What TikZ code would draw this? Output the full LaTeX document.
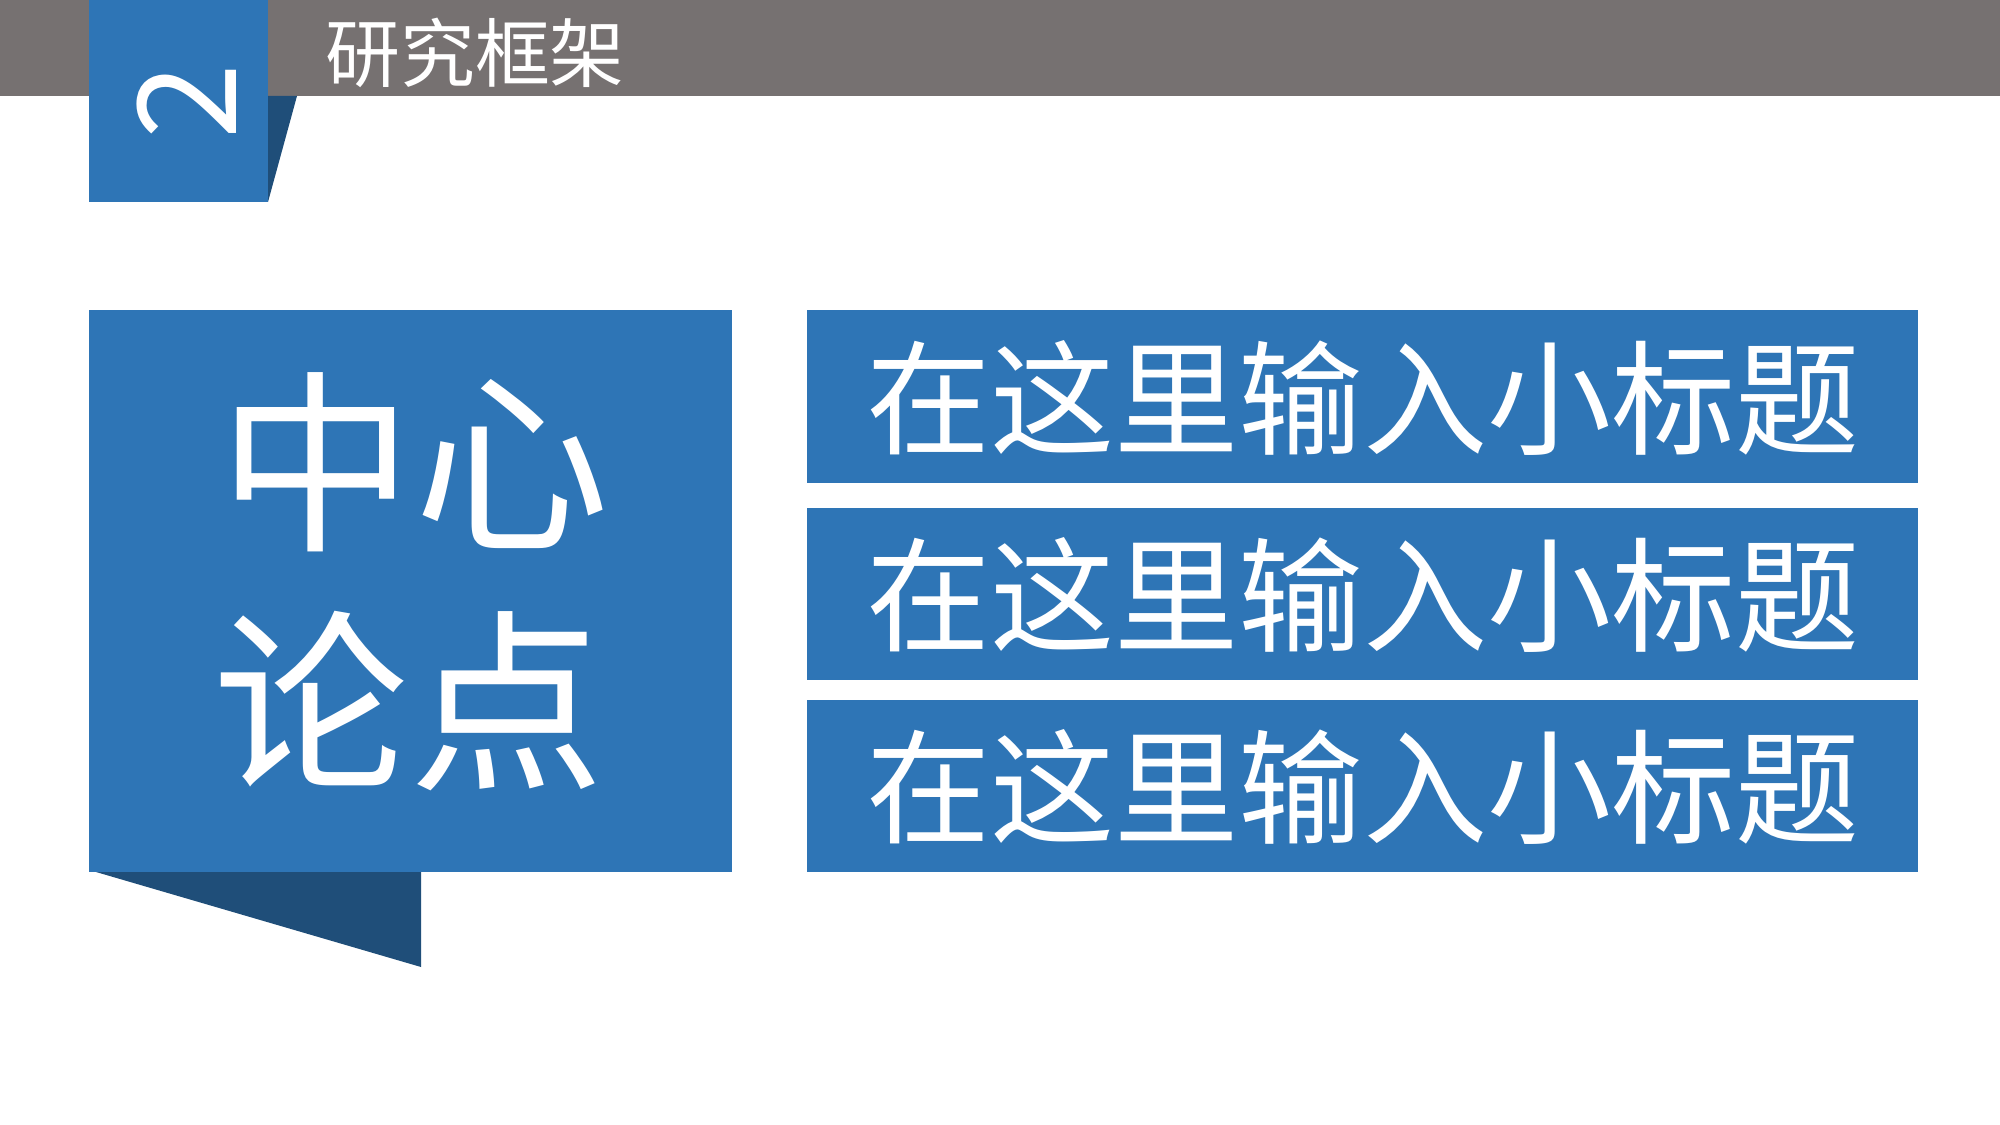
\documentclass[tikz,border=0pt]{standalone}
\usepackage{fontspec}
\newfontfamily\cjk{Noto Sans CJK SC}
\definecolor{mainblue}{HTML}{2E75B6}
\definecolor{darkblue}{HTML}{1F4E79}
\definecolor{bargray}{HTML}{767171}
\begin{document}
\begin{tikzpicture}[x=0.01cm,y=-0.01cm,
  boxtext/.style={text=white,font=\cjk\fontsize{35.3pt}{40pt}\selectfont,inner sep=0pt},
  bigtext/.style={text=white,font=\cjk\fontsize{55.5pt}{60pt}\selectfont,inner sep=0pt},
  titletext/.style={text=white,font=\cjk\fontsize{21.3pt}{24pt}\selectfont,inner sep=0pt}]
\useasboundingbox (0,0) rectangle (2000,1125);
\fill[white] (0,0) rectangle (2000,1125);
% top bar
\fill[bargray] (0,0) rectangle (2000,96);
% number tab
\fill[darkblue] (268,96) -- (297,96) -- (268,202) -- cycle;
\fill[mainblue] (89,0) rectangle (268,202);
\node[text=white,font=\cjk\fontsize{39pt}{44pt}\selectfont,inner sep=0pt,rotate=90] (num) at (187,101) {2};
\node[titletext] (title) at (475,53) {研究框架};
% central box
\fill[darkblue] (96,872) -- (421,872) -- (421,967) -- cycle;
\fill[mainblue] (89,310) rectangle (732,872);
\node[bigtext] (c1) at (414,462) {中心};
\node[bigtext] (c2) at (409,701) {论点};
% right boxes
\fill[mainblue] (807,310) rectangle (1918,483);
\fill[mainblue] (807,508) rectangle (1918,680);
\fill[mainblue] (807,700) rectangle (1918,872);
\node[boxtext] (t1) at (1363,398) {在这里输入小标题};
\node[boxtext] (t2) at (1363,595) {在这里输入小标题};
\node[boxtext] (t3) at (1363,787) {在这里输入小标题};
\end{tikzpicture}
\end{document}
